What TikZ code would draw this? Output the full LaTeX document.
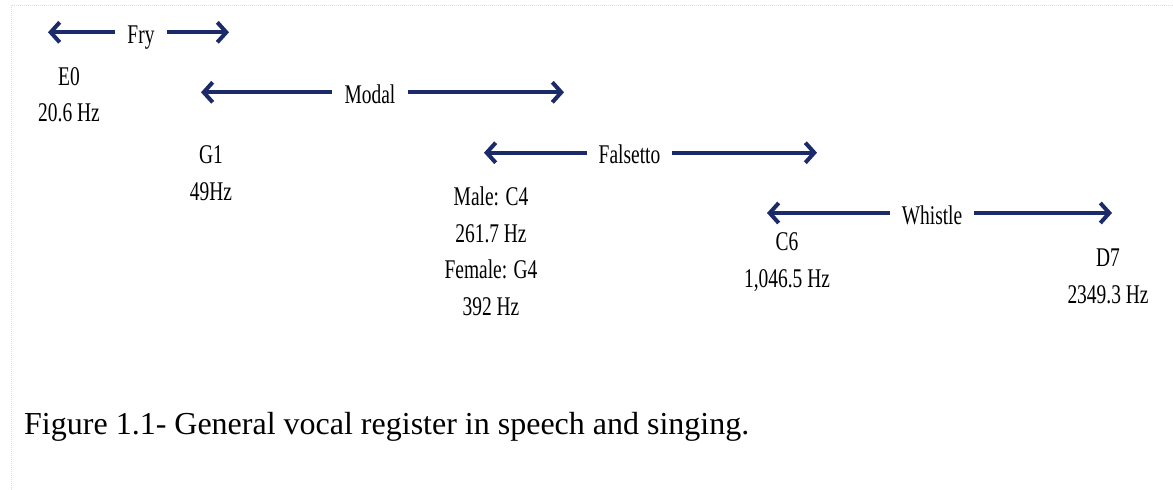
\documentclass[tikz,border=0pt]{standalone}
\usepackage{fontspec}
\setmainfont{Liberation Serif}
\newfontfamily\narrowfont[FakeStretch=0.72]{Liberation Serif}
\usetikzlibrary{arrows.meta}
\definecolor{regnavy}{RGB}{27,42,105}
\definecolor{frameblue}{RGB}{200,230,240}

\begin{document}
\begin{tikzpicture}[x=1pt,y=-1pt,
  reg/.style={font=\narrowfont\fontsize{27}{36.5}\selectfont,
    inner xsep=12pt, inner ysep=0pt, text height=22pt, text depth=0pt},
  pitch/.style={font=\narrowfont\fontsize{27}{36.5}\selectfont,
    align=center, anchor=base, inner sep=0pt},
  span/.style={draw=regnavy, line width=4pt,
    -{Straight Barb[length=9pt,width=20pt]}}]
  \useasboundingbox (0,0) rectangle (1173,490);
  \draw[frameblue, densely dotted, line width=1pt] (11,490) -- (11,5) -- (1173,5);
  % registers with their spans
  \foreach \n/\t/\x/\y/\a/\b in {fry/Fry/141/32.3/48/229,
      modal/Modal/370/92.3/201/564,
      fal/Falsetto/629.5/152.7/484/817,
      whis/Whistle/932/213/767/1112}{
    \node[reg] (\n) at (\x,\y) {\t};
    \coordinate (\n-l) at (\a,\y); \coordinate (\n-r) at (\b,\y);
    \draw[span] (\n) -- (\n-l);
    \draw[span] (\n) -- (\n-r);
  }
  % pitch limits (placed at the baseline of the last line)
  \node[pitch] (e0) at (69,121.7) {E0\\20.6 Hz};
  \node[pitch] (g1) at (211,200) {G1\\49Hz};
  \node[pitch] (c4) at (491,315) {Male: C4\\261.7 Hz\\Female: G4\\392 Hz};
  \node[pitch] (c6) at (787,287) {C6\\1,046.5 Hz};
  \node[pitch] (d7) at (1108,303) {D7\\2349.3 Hz};
  \node[anchor=base west, inner sep=0pt, font=\fontsize{32}{38}\selectfont]
    (caption) at (24,434) {Figure 1.1- General vocal register in speech and singing.};
\end{tikzpicture}
\end{document}
